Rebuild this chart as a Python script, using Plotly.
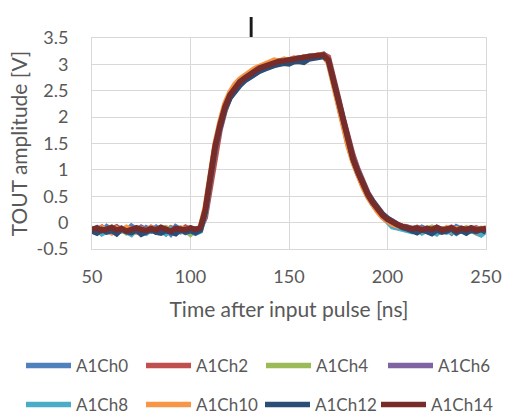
import plotly.graph_objects as go

# Time axis (ns), 2.5 ns sampling
time_ns = [50 + 2.5 * i for i in range(81)]

ch0 = [-0.15,-0.10,-0.18,-0.08,-0.14,-0.20,-0.11,-0.16,-0.07,-0.13,-0.19,-0.10,-0.15,-0.09,-0.17,-0.12,-0.21,-0.08,-0.14,-0.18,-0.11,-0.16,
       -0.12,0.20,0.80,1.42,1.83,2.17,2.38,2.52,2.62,2.70,2.77,2.84,2.88,2.93,2.96,3.00,3.02,3.04,3.05,3.07,3.08,3.12,3.11,3.14,3.18,3.19,
       3.05,2.66,2.25,1.85,1.47,1.17,0.92,0.70,0.50,0.35,0.22,0.11,0.03,-0.04,-0.08,-0.10,-0.13,
       -0.11,-0.16,-0.09,-0.14,-0.18,-0.10,-0.15,-0.12,-0.19,-0.08,-0.14,-0.17,-0.10,-0.15,-0.20,-0.12]
ch2 = [-0.11,-0.14,-0.09,-0.16,-0.12,-0.08,-0.15,-0.13,-0.17,-0.10,-0.12,-0.15,-0.09,-0.14,-0.11,-0.18,-0.10,-0.13,-0.16,-0.09,-0.14,-0.12,
       -0.11,0.10,0.68,1.30,1.76,2.12,2.37,2.53,2.64,2.73,2.80,2.86,2.91,2.95,3.00,3.02,3.05,3.06,3.09,3.10,3.12,3.13,3.15,3.16,3.17,3.19,
       3.14,2.80,2.38,1.98,1.60,1.28,1.01,0.78,0.57,0.41,0.28,0.16,0.08,0.01,-0.03,-0.07,-0.08,
       -0.12,-0.09,-0.13,-0.11,-0.15,-0.10,-0.12,-0.14,-0.09,-0.13,-0.11,-0.16,-0.12,-0.10,-0.14,-0.11]
ch4 = [-0.13,-0.17,-0.11,-0.14,-0.09,-0.16,-0.12,-0.19,-0.13,-0.10,-0.15,-0.18,-0.11,-0.14,-0.16,-0.10,-0.13,-0.17,-0.12,-0.15,-0.22,-0.14,
       -0.14,0.22,0.84,1.44,1.86,2.19,2.43,2.57,2.65,2.75,2.80,2.88,2.91,2.97,2.99,3.04,3.04,3.08,3.07,3.11,3.10,3.14,3.13,3.16,3.15,3.18,
       3.06,2.67,2.26,1.87,1.49,1.19,0.94,0.72,0.52,0.37,0.24,0.13,0.05,-0.01,-0.05,-0.08,-0.10,
       -0.13,-0.10,-0.15,-0.12,-0.09,-0.16,-0.13,-0.11,-0.17,-0.12,-0.14,-0.10,-0.16,-0.13,-0.11,-0.15]
ch6 = [-0.14,-0.11,-0.16,-0.12,-0.18,-0.10,-0.13,-0.15,-0.11,-0.17,-0.09,-0.14,-0.16,-0.12,-0.10,-0.15,-0.13,-0.11,-0.17,-0.14,-0.10,-0.15,
       -0.10,0.24,0.86,1.46,1.85,2.21,2.41,2.57,2.67,2.73,2.82,2.86,2.93,2.96,3.01,3.02,3.06,3.07,3.09,3.09,3.12,3.12,3.15,3.15,3.17,3.16,
       3.07,2.69,2.28,1.89,1.51,1.21,0.96,0.74,0.54,0.39,0.26,0.15,0.07,0.00,-0.04,-0.08,-0.09,
       -0.11,-0.14,-0.10,-0.13,-0.16,-0.11,-0.13,-0.15,-0.10,-0.12,-0.16,-0.13,-0.11,-0.14,-0.12,-0.17]
ch8 = [-0.18,-0.13,-0.21,-0.15,-0.11,-0.19,-0.14,-0.17,-0.22,-0.12,-0.16,-0.20,-0.13,-0.18,-0.15,-0.21,-0.12,-0.17,-0.14,-0.19,-0.16,-0.20,
       -0.16,0.18,0.82,1.43,1.84,2.18,2.40,2.55,2.66,2.74,2.81,2.87,2.92,2.96,3.00,3.03,3.05,3.07,3.08,3.10,3.11,3.13,3.14,3.15,3.16,3.17,
       3.07,2.67,2.26,1.86,1.48,1.18,0.93,0.71,0.51,0.36,0.23,0.12,0.02,-0.08,-0.10,-0.12,-0.14,
       -0.17,-0.12,-0.19,-0.14,-0.16,-0.21,-0.13,-0.18,-0.15,-0.20,-0.12,-0.17,-0.14,-0.19,-0.23,-0.15]
ch10 = [-0.12,-0.16,-0.10,-0.14,-0.19,-0.11,-0.15,-0.09,-0.13,-0.18,-0.12,-0.15,-0.10,-0.16,-0.13,-0.11,-0.17,-0.14,-0.10,-0.15,-0.12,-0.14,
        -0.09,0.30,0.90,1.50,1.92,2.26,2.47,2.62,2.72,2.79,2.86,2.92,2.96,3.00,3.04,3.08,3.06,3.10,3.07,3.12,3.09,3.14,3.12,3.15,3.18,3.16,
        3.03,2.63,2.22,1.83,1.45,1.15,0.90,0.68,0.49,0.34,0.21,0.10,0.03,-0.03,-0.06,-0.09,-0.11,
        -0.14,-0.10,-0.12,-0.16,-0.11,-0.13,-0.17,-0.10,-0.14,-0.12,-0.15,-0.11,-0.13,-0.18,-0.12,-0.10]
ch12 = [-0.16,-0.20,-0.13,-0.18,-0.15,-0.21,-0.12,-0.17,-0.19,-0.14,-0.22,-0.16,-0.13,-0.18,-0.20,-0.15,-0.17,-0.21,-0.13,-0.18,-0.15,-0.19,
        -0.14,0.20,0.81,1.41,1.81,2.15,2.36,2.50,2.60,2.69,2.76,2.82,2.87,2.91,2.95,2.98,3.00,3.02,3.01,3.05,3.06,3.04,3.10,3.11,3.14,3.15,
        3.08,2.70,2.29,1.90,1.52,1.22,0.97,0.75,0.55,0.40,0.27,0.16,0.08,0.02,-0.05,-0.09,-0.12,
        -0.15,-0.19,-0.13,-0.17,-0.21,-0.14,-0.18,-0.16,-0.12,-0.19,-0.15,-0.20,-0.14,-0.17,-0.13,-0.18]
ch14 = [-0.13,-0.10,-0.15,-0.12,-0.09,-0.14,-0.11,-0.16,-0.12,-0.10,-0.13,-0.15,-0.11,-0.14,-0.09,-0.13,-0.16,-0.11,-0.12,-0.14,-0.10,-0.13,
        -0.10,0.24,0.85,1.45,1.86,2.20,2.42,2.56,2.67,2.74,2.82,2.87,2.93,2.96,3.01,3.03,3.06,3.07,3.09,3.10,3.12,3.13,3.15,3.16,3.17,3.18,
        3.08,2.69,2.28,1.88,1.50,1.20,0.95,0.73,0.53,0.38,0.25,0.14,0.06,0.00,-0.04,-0.07,-0.10,
        -0.12,-0.10,-0.14,-0.11,-0.13,-0.09,-0.14,-0.12,-0.10,-0.15,-0.11,-0.13,-0.10,-0.14,-0.12,-0.11]

channel_names = ["A1Ch0", "A1Ch2", "A1Ch4", "A1Ch6", "A1Ch8", "A1Ch10", "A1Ch12", "A1Ch14"]
channel_values = [ch0, ch2, ch4, ch6, ch8, ch10, ch12, ch14]
colors = ["#4F81BD", "#C0504D", "#9BBB59", "#8064A2", "#4BACC6", "#F79646", "#2C4D75", "#772C2A"]

x_ticks = [50, 100, 150, 200, 250]
y_ticks = [-0.5, 0, 0.5, 1, 1.5, 2, 2.5, 3, 3.5]
y_tick_labels = ["-0.5", "0", "0.5", "1", "1.5", "2", "2.5", "3", "3.5"]

FONT = "Lato"
TXT = "#595959"
GRID = "#D9D9D9"

W, H = 514, 417
L, R, T, B = 92, 16, 38, 168

# legend entry placement (pixels): left of swatch, row centre
legend_pos = [(21, 366), (141, 366), (261, 366), (383, 366),
              (21, 405), (141, 405), (260, 405), (376, 405)]

fig = go.Figure()
layout_legends = {}
for i, (name, vals, col) in enumerate(zip(channel_names, channel_values, colors)):
    lname = "legend" if i == 0 else f"legend{i + 1}"
    fig.add_trace(go.Scatter(
        x=time_ns, y=vals, mode="lines", name=name,
        line=dict(color=col, width=5.5),
        legend=lname,
    ))
    px, py = legend_pos[i]
    layout_legends[lname] = dict(
        orientation="h", xref="container", yref="container",
        x=px / W, y=1 - py / H, xanchor="left", yanchor="middle",
        font=dict(family=FONT, size=17, color=TXT),
        itemwidth=45, bgcolor="rgba(0,0,0,0)",
    )

fig.update_layout(
    width=W, height=H, autosize=False,
    margin=dict(l=L, r=R, t=T, b=B, pad=0),
    paper_bgcolor="white", plot_bgcolor="white",
    font=dict(family=FONT, size=18, color=TXT),
    showlegend=True,
    xaxis=dict(
        range=[50, 250], tickvals=x_ticks, showgrid=True, gridcolor=GRID, gridwidth=1,
        zeroline=False, showline=True, linecolor=GRID, linewidth=1, mirror=True,
        ticks="", ticklabelstandoff=11,
        tickfont=dict(family=FONT, size=18, color=TXT),
        title=dict(text="Time after input pulse [ns]", font=dict(family=FONT, size=21, color=TXT), standoff=16),
    ),
    yaxis=dict(
        range=[-0.5, 3.5], tickvals=y_ticks, ticktext=y_tick_labels, showgrid=True, gridcolor=GRID, gridwidth=1,
        zeroline=False, showline=True, linecolor=GRID, linewidth=1, mirror=True,
        ticks="", ticklabelstandoff=19,
        tickfont=dict(family=FONT, size=18, color=TXT),
        title=dict(text="TOUT amplitude [V]", font=dict(family=FONT, size=21, color=TXT), standoff=3),
    ),
    **layout_legends,
)

# small vertical bar at the top (cropped caption fragment)
pw, ph = W - L - R, H - T - B
fig.add_shape(type="rect", xref="paper", yref="paper",
              x0=(254.5 - L) / pw, x1=(257.5 - L) / pw,
              y0=(H - B - 37) / ph, y1=(H - B - 17) / ph,
              fillcolor="#1a1a1a", line=dict(width=0), layer="above")

fig.write_html("out.html")
